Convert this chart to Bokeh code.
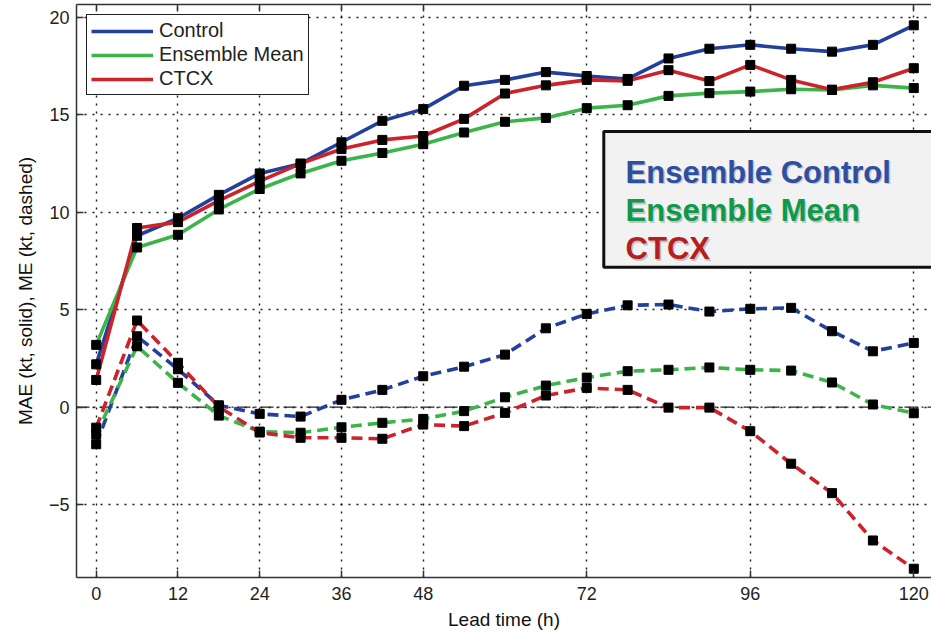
from bokeh.plotting import figure
from bokeh.models import (FixedTicker, LinearAxis, Span, BoxAnnotation, Label,
                          CustomJSTickFormatter, Range1d)
from bokeh.embed import file_html
from bokeh.resources import INLINE

# ---- data ----
lead = [0, 6, 12, 18, 24, 30, 36, 42, 48, 54, 60, 66, 72, 78, 84, 90, 96, 102, 108, 114, 120]

mae_control = [2.2, 8.8, 9.7, 10.9, 12.0, 12.5, 13.6, 14.7, 15.3, 16.5, 16.8, 17.2, 17.0, 16.85,
               17.9, 18.4, 18.6, 18.4, 18.25, 18.6, 19.6]
mae_mean = [3.2, 8.2, 8.85, 10.15, 11.2, 12.0, 12.65, 13.05, 13.5, 14.1, 14.65, 14.85, 15.35, 15.5,
            15.98, 16.12, 16.2, 16.32, 16.28, 16.52, 16.38]
mae_ctcx = [1.4, 9.2, 9.5, 10.6, 11.6, 12.5, 13.25, 13.72, 13.92, 14.8, 16.1, 16.52, 16.8, 16.75,
            17.3, 16.74, 17.57, 16.8, 16.3, 16.68, 17.4]

me_control = [-1.9, 3.64, 1.95, 0.1, -0.34, -0.48, 0.38, 0.89, 1.59, 2.08, 2.7, 4.05, 4.79, 5.23,
              5.27, 4.91, 5.05, 5.1, 3.9, 2.87, 3.3]
me_mean = [-1.4, 3.13, 1.25, -0.43, -1.25, -1.31, -1.03, -0.8, -0.6, -0.2, 0.51, 1.11, 1.52, 1.85,
           1.92, 2.04, 1.92, 1.88, 1.27, 0.14, -0.31]
me_ctcx = [-1.05, 4.45, 2.28, 0.02, -1.3, -1.57, -1.57, -1.62, -0.89, -0.97, -0.29, 0.6, 0.99, 0.89,
           -0.02, -0.02, -1.23, -2.9, -4.41, -6.84, -8.29]

series_names = ["Control", "Ensemble Mean", "CTCX"]
series_colors = ["#22409c", "#3cb44a", "#cc2229"]
box_texts = ["Ensemble Control", "Ensemble Mean", "CTCX"]
box_colors = ["#2e4fa0", "#0f9a4a", "#b41f24"]

x_ticks = [0, 12, 24, 36, 48, 72, 96, 120]
y_ticks = [-5, 0, 5, 10, 15, 20]

FONT = "Liberation Sans"

p = figure(width=931, height=633, output_backend="svg", toolbar_location=None,
           x_range=Range1d(-2.89, 122.6), y_range=Range1d(-8.74, 20.67),
           min_border_left=76, min_border_right=0, min_border_top=4, min_border_bottom=56,
           x_axis_label="Lead time (h)", y_axis_label="MAE (kt, solid), ME (kt, dashed)")
p.outline_line_color = None
p.background_fill_color = "white"
p.border_fill_color = "white"

# axes
p.xaxis.ticker = FixedTicker(ticks=x_ticks)
p.yaxis.ticker = FixedTicker(ticks=y_ticks)
p.yaxis.formatter = CustomJSTickFormatter(code="return tick < 0 ? '\\u2212' + Math.abs(tick) : '' + tick;")
for ax in (p.xaxis[0], p.yaxis[0]):
    ax.axis_line_color = "#333333"
    ax.axis_line_width = 1.5
    ax.major_tick_in = 7
    ax.major_tick_out = 0
    ax.major_tick_line_color = "#333333"
    ax.major_tick_line_width = 1.5
    ax.minor_tick_line_color = None
    ax.major_label_text_font = FONT
    ax.major_label_text_font_size = "18px"
    ax.major_label_text_color = "#222222"
    ax.axis_label_text_font = FONT
    ax.axis_label_text_font_size = "19px"
    ax.axis_label_text_font_style = "normal"
    ax.axis_label_text_color = "#111111"
p.xaxis.major_label_standoff = 9
p.xaxis.axis_label_standoff = 6
p.yaxis.major_label_standoff = 7
p.yaxis.axis_label_standoff = 10

# top box edge with inward ticks, no labels
top_axis = LinearAxis(ticker=FixedTicker(ticks=x_ticks),
                      formatter=CustomJSTickFormatter(code="return '';"),
                      major_label_standoff=0, major_tick_in=7, major_tick_out=0,
                      axis_line_color="#333333", axis_line_width=1.5,
                      major_tick_line_color="#333333", major_tick_line_width=1.5,
                      minor_tick_line_color=None, major_label_text_font_size="1px")
p.add_layout(top_axis, "above")

# grid
p.xgrid.ticker = FixedTicker(ticks=x_ticks)
p.ygrid.ticker = FixedTicker(ticks=y_ticks)
for g in (p.xgrid[0], p.ygrid[0]):
    g.grid_line_color = "black"
    g.grid_line_dash = "2 6"
    g.grid_line_width = 1.4
    g.grid_line_alpha = 0.9

# zero line
p.add_layout(Span(location=0, dimension="width", line_color="#222222",
                  line_dash="13 4 2 4", line_width=1.3, level="underlay"))

mae = [mae_control, mae_mean, mae_ctcx]
me = [me_control, me_mean, me_ctcx]

for vals, name, col in zip(me, series_names, series_colors):
    p.line(lead, vals, line_color=col, line_width=3.6, line_dash="11 6")
for vals, name, col in zip(mae, series_names, series_colors):
    p.line(lead, vals, line_color=col, line_width=3.6, legend_label=name)
for vals in me + mae:
    p.scatter(lead, vals, marker="square", size=9, fill_color="black", line_color="black")

# legend
lg = p.legend[0]
lg.location = "top_left"
lg.margin = 10
lg.padding = 4
lg.spacing = 1
lg.glyph_height = 20
lg.label_height = 20
lg.glyph_width = 62
lg.label_standoff = 6
lg.label_text_font = FONT
lg.label_text_font_size = "20px"
lg.label_text_color = "#222222"
lg.border_line_color = "#222222"
lg.border_line_width = 1.5
lg.border_line_alpha = 1.0
lg.background_fill_color = "white"
lg.background_fill_alpha = 1.0

# annotation box (position in data space)
p.add_layout(BoxAnnotation(left=74.5, right=130, top=14.15, bottom=7.18,
                           fill_color="#f2f2f2", fill_alpha=1.0,
                           line_color="#111111", line_alpha=1.0, line_width=3))
baselines = [12.06, 10.09, 8.13]
for txt, col, yb in zip(box_texts, box_colors, baselines):
    p.add_layout(Label(x=77.7, y=yb, text=txt, text_color="#8a8a8a", text_alpha=0.45,
                       x_offset=1.5, y_offset=-1.5, text_font=FONT, text_font_size="31px",
                       text_font_style="bold", text_baseline="alphabetic"))
    p.add_layout(Label(x=77.7, y=yb, text=txt, text_color=col,
                       text_font=FONT, text_font_size="31px",
                       text_font_style="bold", text_baseline="alphabetic"))

open("out.html", "w").write(file_html(p, INLINE))
